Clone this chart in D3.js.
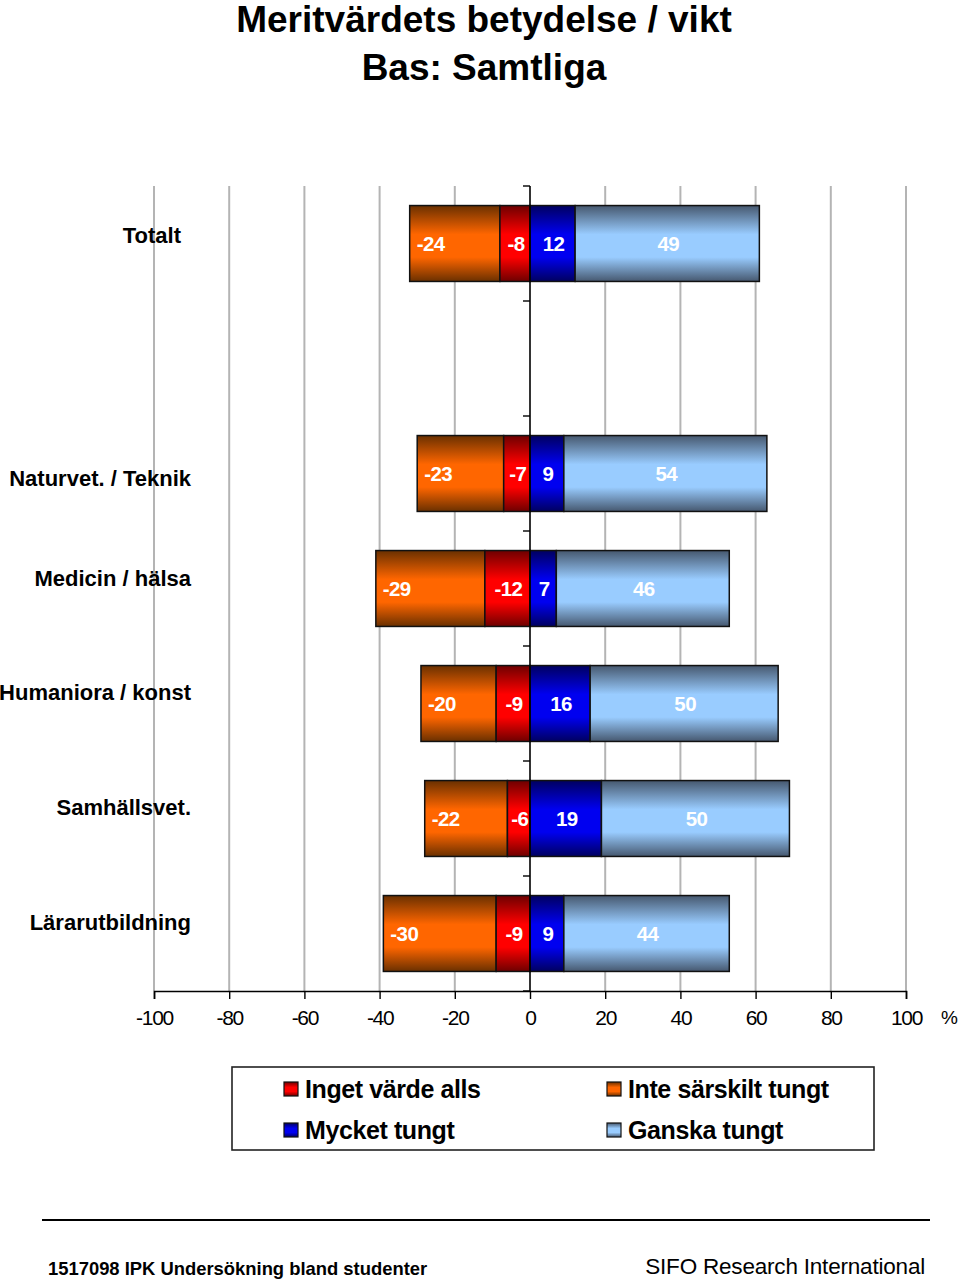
<!DOCTYPE html>
<html>
<head>
<meta charset="utf-8">
<script src="https://cdn.jsdelivr.net/npm/d3@7"></script>
<style>
body{margin:0;background:#fff;}
svg{display:block;font-family:"Liberation Sans",Arial,sans-serif;}
</style>
</head>
<body>
<svg id="chart" width="960" height="1281"></svg>
<script>
// ---- data ----
const categories = ["Totalt", "Naturvet. / Teknik", "Medicin / hälsa", "Humaniora / konst", "Samhällsvet.", "Lärarutbildning"];
const slots = ["Totalt", "_gap", "Naturvet. / Teknik", "Medicin / hälsa", "Humaniora / konst", "Samhällsvet.", "Lärarutbildning"];
const ingetVarde = [-8, -7, -12, -9, -6, -9];
const inteSarskilt = [-24, -23, -29, -20, -22, -30];
const mycketTungt = [12, 9, 7, 16, 19, 9];
const ganskaTungt = [49, 54, 46, 50, 50, 44];
const xTicks = [-100, -80, -60, -40, -20, 0, 20, 40, 60, 80, 100];
const seriesNames = ["Inget värde alls", "Inte särskilt tungt", "Mycket tungt", "Ganska tungt"];
const titleLines = ["Meritvärdets betydelse / vikt", "Bas: Samtliga"];

// ---- drawing ----
const svg = d3.select("#chart");
const x = d3.scaleLinear().domain([-100, 100]).range([154, 906]);
const y = d3.scaleBand().domain(slots).range([186, 991]).paddingInner(0.34).paddingOuter(0.17);
const step = y.step();

const colors = {
  inget: {dark: "#6e0000", bright: "#ff0000"},
  inte: {dark: "#6a3000", bright: "#ff6600"},
  mycket: {dark: "#000060", bright: "#0000f0"},
  ganska: {dark: "#46586f", bright: "#99ccff"}
};
const defs = svg.append("defs");
Object.entries(colors).forEach(([k, c]) => {
  const g = defs.append("linearGradient").attr("id", "g-" + k)
    .attr("x1", 0).attr("y1", 0).attr("x2", 0).attr("y2", 1);
  [[0, c.dark], [0.38, c.bright], [0.68, c.bright], [1, c.dark]].forEach(([o, col]) =>
    g.append("stop").attr("offset", o).attr("stop-color", col));
});

// Title
svg.selectAll(".title").data(titleLines).join("text")
  .attr("x", 484).attr("y", (d, i) => 32 + i * 48)
  .attr("text-anchor", "middle").attr("font-weight", "bold").attr("font-size", 37)
  .text(d => d);

// gridlines
svg.append("g").selectAll("line").data(xTicks.filter(t => t !== 0)).join("line")
  .attr("x1", d => x(d)).attr("x2", d => x(d)).attr("y1", 186).attr("y2", 991)
  .attr("stroke", "#b4b4b4").attr("stroke-width", 2);

// x axis
const xAxis = svg.append("g").attr("transform", "translate(0,991)")
  .call(d3.axisBottom(x).tickValues(xTicks).tickSize(8).tickPadding(11).tickFormat(d => String(d)));
xAxis.select(".domain").attr("stroke", "#000").attr("stroke-width", 1.6);
xAxis.selectAll(".tick line").attr("stroke", "#000").attr("stroke-width", 1.4);
xAxis.selectAll(".tick text").attr("font-size", 21).attr("font-family", "'Liberation Sans',Arial,sans-serif")
  .attr("letter-spacing", -1.3).attr("fill", "#000");
svg.append("text").attr("x", 941).attr("y", 1024).attr("font-size", 19).text("%");

// rows
const rows = categories.map((c, i) => ({
  cat: c,
  segs: [
    {k: "inte", x0: ingetVarde[i] + inteSarskilt[i], x1: ingetVarde[i], v: inteSarskilt[i], align: "start"},
    {k: "inget", x0: ingetVarde[i], x1: 0, v: ingetVarde[i], align: "middle"},
    {k: "mycket", x0: 0, x1: mycketTungt[i], v: mycketTungt[i], align: "middle"},
    {k: "ganska", x0: mycketTungt[i], x1: mycketTungt[i] + ganskaTungt[i], v: ganskaTungt[i], align: "middle"}
  ]
}));

const rowG = svg.append("g").selectAll("g").data(rows).join("g")
  .attr("transform", d => `translate(0,${y(d.cat)})`);
rowG.selectAll("rect").data(d => d.segs).join("rect")
  .attr("x", d => x(d.x0)).attr("width", d => x(d.x1) - x(d.x0))
  .attr("y", 0).attr("height", y.bandwidth())
  .attr("fill", d => `url(#g-${d.k})`).attr("stroke", "#111").attr("stroke-width", 1.5);
rowG.selectAll("text").data(d => d.segs).join("text")
  .attr("x", d => d.align === "start" ? x(d.x0) + 7 : (x(d.x0) + x(d.x1)) / 2 + 1)
  .attr("y", y.bandwidth() / 2 + 7.5)
  .attr("text-anchor", d => d.align)
  .attr("fill", "#fff").attr("font-weight", "bold").attr("font-size", 20.5).attr("letter-spacing", -0.6)
  .text(d => d.v);

// zero axis with band ticks
svg.append("line").attr("x1", x(0)).attr("x2", x(0)).attr("y1", 186).attr("y2", 991)
  .attr("stroke", "#000").attr("stroke-width", 1.6);
svg.append("g").selectAll("line").data(d3.range(slots.length + 1)).join("line")
  .attr("x1", x(0) - 7).attr("x2", x(0)).attr("y1", i => 186 + i * step).attr("y2", i => 186 + i * step)
  .attr("stroke", "#000").attr("stroke-width", 1.4);

// category labels (label offsets follow the original's layout)
const labelDy = {"Totalt": -1, "Naturvet. / Teknik": 12, "Medicin / hälsa": -3, "Humaniora / konst": -4, "Samhällsvet.": -4, "Lärarutbildning": -4};
const labelDx = {"Totalt": -10};
svg.append("g").selectAll("text").data(categories).join("text")
  .attr("x", d => 191 + (labelDx[d] || 0))
  .attr("y", d => y(d) + y.bandwidth() / 2 + labelDy[d])
  .attr("text-anchor", "end").attr("font-weight", "bold").attr("font-size", 22)
  .text(d => d);

// legend
svg.append("rect").attr("x", 232).attr("y", 1067).attr("width", 642).attr("height", 83)
  .attr("fill", "#fff").attr("stroke", "#222").attr("stroke-width", 1.6);
const legendItems = [
  {name: seriesNames[0], k: "inget", col: 0, row: 0},
  {name: seriesNames[1], k: "inte", col: 1, row: 0},
  {name: seriesNames[2], k: "mycket", col: 0, row: 1},
  {name: seriesNames[3], k: "ganska", col: 1, row: 1}
];
const lg = svg.append("g").selectAll("g").data(legendItems).join("g")
  .attr("transform", d => `translate(${284 + d.col * 323},${1089 + d.row * 41})`);
lg.append("rect").attr("x", 0).attr("y", -7).attr("width", 14).attr("height", 14)
  .attr("fill", d => `url(#g-${d.k})`).attr("stroke", "#111").attr("stroke-width", 1.2);
lg.append("text").attr("x", 21).attr("y", 9).attr("font-weight", "bold").attr("font-size", 25)
  .attr("letter-spacing", -0.4).text(d => d.name);

// footer
svg.append("line").attr("x1", 42).attr("x2", 930).attr("y1", 1220).attr("y2", 1220)
  .attr("stroke", "#000").attr("stroke-width", 2.2);
svg.append("text").attr("x", 48).attr("y", 1275).attr("font-weight", "bold").attr("font-size", 18.4)
  .text("1517098 IPK Undersökning bland studenter");
svg.append("text").attr("x", 925).attr("y", 1274).attr("text-anchor", "end").attr("font-size", 22.5)
  .attr("letter-spacing", -0.2).text("SIFO Research International");
</script>
</body>
</html>
